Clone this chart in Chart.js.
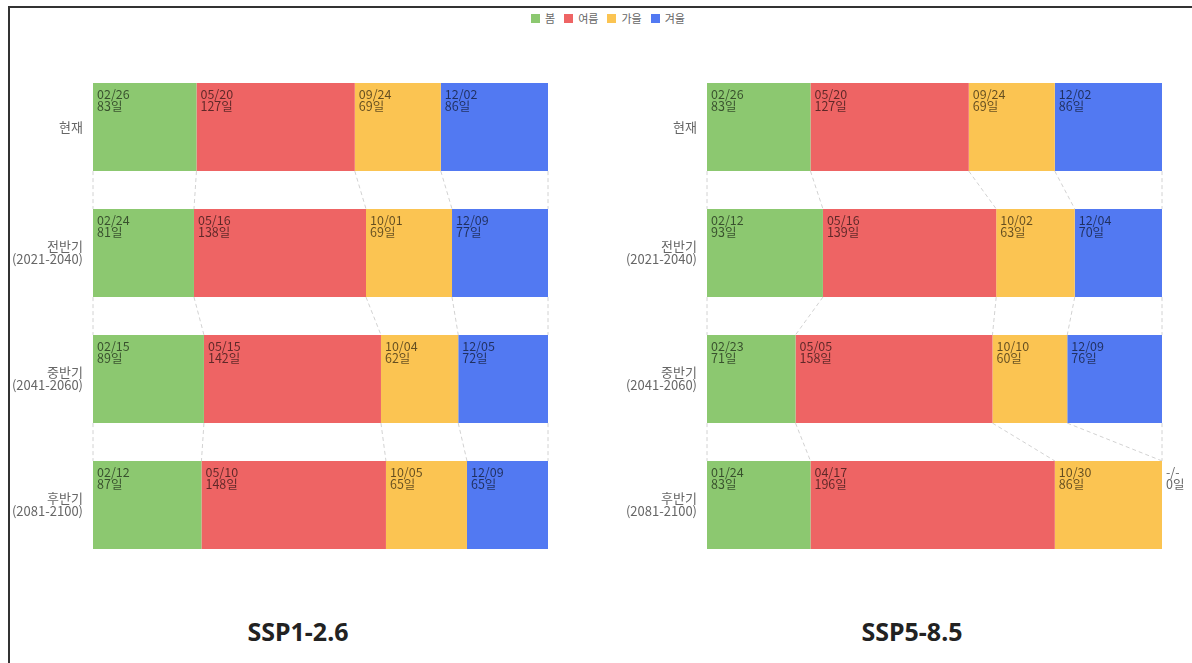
<!DOCTYPE html>
<html>
<head>
<meta charset="utf-8">
<script src="https://cdn.jsdelivr.net/npm/chart.js@4"></script>
<style>
  body { margin: 0; width: 1192px; height: 663px; overflow: hidden; background: #fff; position: relative; font-family: "Noto Sans CJK KR", "Noto Sans", sans-serif; }
  .frame { position: absolute; left: 8px; top: 6px; right: 0; bottom: 0; border-top: 2px solid #333; border-left: 2px solid #333; }
  .box { position: absolute; top: 40px; width: 582px; height: 540px; }
  .legend { position: absolute; left: 531px; top: 10px; display: flex; align-items: center; font-size: 11px; color: #666; }
  .legend span.sw { width: 9px; height: 9px; display: inline-block; margin-right: 5px; }
  .legend span.lb { margin-right: 9px; }
  .title { position: absolute; top: 614px; width: 300px; text-align: center; font-family: "Noto Sans", sans-serif; font-weight: 700; font-size: 25px; color: #222; }
</style>
</head>
<body>
<div class="frame"></div>
<div class="legend" id="legend"></div>
<div class="box" style="left:8px"><canvas id="chart1"></canvas></div>
<div class="box" style="left:622px"><canvas id="chart2"></canvas></div>
<div class="title" style="left:148px">SSP1-2.6</div>
<div class="title" style="left:762px">SSP5-8.5</div>
<script>
// 구간
const periods = ["현재", ["전반기", "(2021-2040)"], ["중반기", "(2041-2060)"], ["후반기", "(2081-2100)"]];
const seasons = ["봄", "여름", "가을", "겨울"];
const seasonColors = ["#8cc870", "#ee6464", "#fbc452", "#5279f2"];

// SSP1-2.6 일수 / 시작일
const ssp126Spring = [83, 81, 89, 87];
const ssp126Summer = [127, 138, 142, 148];
const ssp126Autumn = [69, 69, 62, 65];
const ssp126Winter = [86, 77, 72, 65];
const ssp126SpringStart = ["02/26", "02/24", "02/15", "02/12"];
const ssp126SummerStart = ["05/20", "05/16", "05/15", "05/10"];
const ssp126AutumnStart = ["09/24", "10/01", "10/04", "10/05"];
const ssp126WinterStart = ["12/02", "12/09", "12/05", "12/09"];

// SSP5-8.5 일수 / 시작일
const ssp585Spring = [83, 93, 71, 83];
const ssp585Summer = [127, 139, 158, 196];
const ssp585Autumn = [69, 63, 60, 86];
const ssp585Winter = [86, 70, 76, 0];
const ssp585SpringStart = ["02/26", "02/12", "02/23", "01/24"];
const ssp585SummerStart = ["05/20", "05/16", "05/05", "04/17"];
const ssp585AutumnStart = ["09/24", "10/02", "10/10", "10/30"];
const ssp585WinterStart = ["12/02", "12/04", "12/09", "-/-"];

// 범례
const legendEl = document.getElementById("legend");
legendEl.innerHTML = seasons
  .map((s, i) => `<span class="sw" style="background:${seasonColors[i]}"></span><span class="lb">${s}</span>`)
  .join("");

// 막대 사이 연결선
const connectorPlugin = {
  id: "connectors",
  beforeDatasetsDraw(chart) {
    const ctx = chart.ctx;
    const metas = chart.data.datasets.map((d, i) => chart.getDatasetMeta(i));
    const rows = chart.data.labels.length;
    ctx.save();
    ctx.strokeStyle = "#d2d2d2";
    ctx.lineWidth = 1;
    ctx.setLineDash([4, 3]);
    for (let r = 0; r < rows - 1; r++) {
      const a = metas.map((m) => m.data[r].getProps(["x", "y", "base", "height"], true));
      const b = metas.map((m) => m.data[r + 1].getProps(["x", "y", "base", "height"], true));
      const edgesA = [a[0].base].concat(a.map((p) => p.x));
      const edgesB = [b[0].base].concat(b.map((p) => p.x));
      const y1 = a[0].y + a[0].height / 2;
      const y2 = b[0].y - b[0].height / 2;
      edgesA.forEach((xa, k) => {
        ctx.beginPath();
        ctx.moveTo(xa, y1);
        ctx.lineTo(edgesB[k], y2);
        ctx.stroke();
      });
    }
    ctx.restore();
  },
};

// 막대 안쪽 라벨
const labelPlugin = {
  id: "segLabels",
  afterDatasetsDraw(chart) {
    const ctx = chart.ctx;
    ctx.save();
    ctx.font = '12.5px "Noto Sans CJK KR", sans-serif';
    ctx.textBaseline = "top";
    ctx.textAlign = "left";
    chart.data.datasets.forEach((ds, i) => {
      chart.getDatasetMeta(i).data.forEach((bar, j) => {
        const p = bar.getProps(["x", "y", "base", "height"], true);
        const top = p.y - p.height / 2;
        const val = ds.data[j];
        ctx.fillStyle = val === 0 ? "#666" : "rgba(0,0,0,0.6)";
        const x = Math.min(p.base, p.x) + 4;
        ctx.fillText(ds.starts[j], x, top + 5);
        ctx.fillText(val + "일", x, top + 17);
      });
    });
    ctx.restore();
  },
};

function makeChart(id, days, starts) {
  const ctx = document.getElementById(id).getContext("2d");
  return new Chart(ctx, {
    type: "bar",
    data: {
      labels: periods,
      datasets: seasons.map((s, i) => ({
        label: s,
        data: days[i],
        starts: starts[i],
        backgroundColor: seasonColors[i],
        borderWidth: 0,
        barPercentage: 0.7,
        categoryPercentage: 1,
      })),
    },
    options: {
      indexAxis: "y",
      responsive: true,
      maintainAspectRatio: false,
      animation: false,
      layout: { padding: { top: 24, right: 42, bottom: 12, left: 0 } },
      plugins: {
        legend: { display: false },
        tooltip: { enabled: false },
      },
      scales: {
        x: { stacked: true, min: 0, max: 365, display: false },
        y: {
          stacked: true,
          grid: { display: false },
          border: { display: false },
          ticks: {
            color: "#666",
            font: { size: 13, family: '"Noto Sans CJK KR", sans-serif', lineHeight: 1.0 },
            padding: 2,
          },
          afterFit(scale) {
            scale.width = 85;
          },
        },
      },
    },
    plugins: [connectorPlugin, labelPlugin],
  });
}

makeChart(
  "chart1",
  [ssp126Spring, ssp126Summer, ssp126Autumn, ssp126Winter],
  [ssp126SpringStart, ssp126SummerStart, ssp126AutumnStart, ssp126WinterStart]
);
makeChart(
  "chart2",
  [ssp585Spring, ssp585Summer, ssp585Autumn, ssp585Winter],
  [ssp585SpringStart, ssp585SummerStart, ssp585AutumnStart, ssp585WinterStart]
);
</script>
</body>
</html>
